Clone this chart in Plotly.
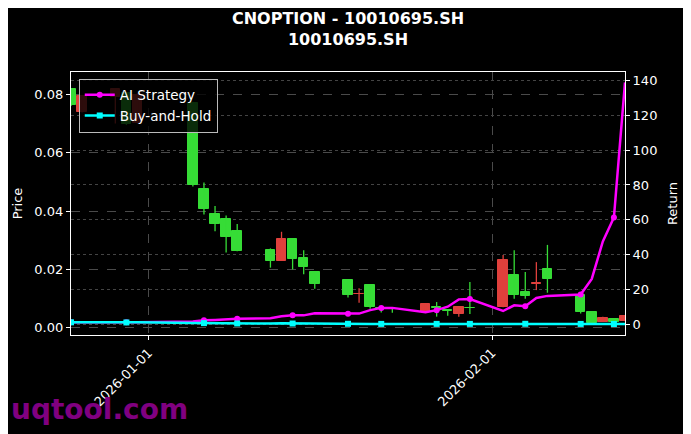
import plotly.graph_objects as go

# 日付と OHLC (チャートから読み取り)
dates = ['2025-12-25', '2025-12-26', '2025-12-29', '2025-12-30', '2025-12-31',
         '2026-01-05', '2026-01-06', '2026-01-07', '2026-01-08', '2026-01-09',
         '2026-01-12', '2026-01-13', '2026-01-14', '2026-01-15', '2026-01-16',
         '2026-01-19', '2026-01-20', '2026-01-21', '2026-01-22', '2026-01-23',
         '2026-01-26', '2026-01-27', '2026-01-28', '2026-01-29', '2026-01-30',
         '2026-02-02', '2026-02-03', '2026-02-04', '2026-02-05', '2026-02-06',
         '2026-02-09', '2026-02-10', '2026-02-11', '2026-02-12', '2026-02-13']
opens = [0.0818, 0.0741, 0.0790, 0.0804, 0.0703,
         0.0771, 0.0477, 0.0390, 0.0374, 0.0330,
         0.0266, 0.0229, 0.0304, 0.0239, 0.0191,
         0.0164, 0.0115, 0.0146, 0.0066, 0.0065,
         0.0055, 0.0072, 0.0060, 0.0047, 0.0068,
         0.0072, 0.0181, 0.0121, 0.0150, 0.0200,
         0.0111, 0.0053, 0.0021, 0.0030, 0.0023]
highs = [0.0822, 0.0798, 0.0822, 0.0808, 0.0806,
         0.0775, 0.0498, 0.0417, 0.0385, 0.0356,
         0.0272, 0.0329, 0.0304, 0.0266, 0.0191,
         0.0164, 0.0135, 0.0146, 0.0068, 0.0067,
         0.0083, 0.0088, 0.0061, 0.0074, 0.0157,
         0.0249, 0.0266, 0.0191, 0.0225, 0.0284,
         0.0111, 0.0053, 0.0038, 0.0031, 0.0042]
lows = [0.0760, 0.0738, 0.0700, 0.0695, 0.0700,
        0.0484, 0.0388, 0.0331, 0.0258, 0.0262,
        0.0206, 0.0229, 0.0200, 0.0183, 0.0134,
        0.0104, 0.0086, 0.0065, 0.0052, 0.0051,
        0.0052, 0.0038, 0.0041, 0.0038, 0.0047,
        0.0070, 0.0099, 0.0099, 0.0129, 0.0120,
        0.0049, 0.0016, 0.0020, 0.0019, 0.0022]
closes = [0.0763, 0.0794, 0.0818, 0.0700, 0.0798,
          0.0488, 0.0406, 0.0354, 0.0310, 0.0262,
          0.0229, 0.0304, 0.0237, 0.0208, 0.0151,
          0.0113, 0.0117, 0.0072, 0.0064, 0.0063,
          0.0081, 0.0069, 0.0057, 0.0070, 0.0066,
          0.0232, 0.0113, 0.0109, 0.0153, 0.0168,
          0.0055, 0.0017, 0.0034, 0.0021, 0.0041]

# リターン (右軸)
ai_ret = [1.0, 1.0, 1.0, 1.0, 1.1,
          1.5, 2.2, 2.4, 2.8, 3.0,
          3.4, 4.5, 5.0, 5.0, 6.2,
          5.9, 6.0, 8.0, 9.3, 9.3,
          6.8, 8.0, 10.0, 14.2, 14.4,
          7.5, 10.8, 10.3, 15.0, 16.2,
          17.0, 26.0, 47.5, 61.3, 139.0]
bh_ret = [1.00, 1.04, 1.07, 0.92, 1.05,
          0.64, 0.53, 0.46, 0.41, 0.34,
          0.30, 0.40, 0.31, 0.27, 0.20,
          0.15, 0.15, 0.09, 0.08, 0.08,
          0.11, 0.09, 0.07, 0.09, 0.09,
          0.30, 0.15, 0.14, 0.20, 0.22,
          0.07, 0.02, 0.04, 0.03, 0.05]

x_ticks = ['2026-01-01', '2026-02-01']
price_ticks = [0.00, 0.02, 0.04, 0.06, 0.08]
ret_ticks = [0, 20, 40, 60, 80, 100, 120, 140]

UP = '#e0403c'    # 上昇 = 赤
DOWN = '#36dc36'  # 下落 = 緑
FONT = 'DejaVu Sans'
DAY = 86400000

fig = go.Figure()

# ローソク足: 上昇/下落ごとにヒゲと実体を描く
for color, is_up in [(DOWN, False), (UP, True)]:
    idx = [i for i in range(len(dates)) if (closes[i] >= opens[i]) == is_up]
    wx, wy = [], []
    for i in idx:
        wx += [dates[i], dates[i], None]
        wy += [lows[i], highs[i], None]
    fig.add_trace(go.Scatter(x=wx, y=wy, mode='lines', line=dict(color=color, width=1.3),
                             showlegend=False, hoverinfo='skip'))
    fig.add_trace(go.Bar(
        x=[dates[i] for i in idx],
        y=[abs(closes[i] - opens[i]) for i in idx],
        base=[min(opens[i], closes[i]) for i in idx],
        width=0.86 * DAY,
        marker=dict(color=color, line=dict(color=color, width=1)),
        showlegend=False,
    ))

# 戦略ラインと凡例用ダミー
for name, vals, color, symbol in [('AI Strategy', ai_ret, '#ff00ff', 'circle'),
                                  ('Buy-and-Hold', bh_ret, '#00ffff', 'square')]:
    fig.add_trace(go.Scatter(x=dates, y=vals, mode='lines', yaxis='y2',
                             line=dict(color=color, width=2.5), showlegend=False))
    fig.add_trace(go.Scatter(x=dates[::3], y=vals[::3], mode='markers', yaxis='y2',
                             marker=dict(color=color, size=6, symbol=symbol), showlegend=False))
    fig.add_trace(go.Scatter(x=[None], y=[None], mode='lines+markers', yaxis='y2', name=name,
                             line=dict(color=color, width=2.5),
                             marker=dict(color=color, size=6, symbol=symbol)))

axis_common = dict(showline=True, linecolor='white', linewidth=1.2, mirror=True,
                   ticks='outside', ticklen=4, tickcolor='white', zeroline=False,
                   automargin=False,
                   tickfont=dict(color='white', size=13, family=FONT))

# ページ余白 (8px) の分だけ左上の余白を減らす
fig.update_layout(
    width=691, height=434,
    paper_bgcolor='black', plot_bgcolor='black',
    margin=dict(l=63, r=74, t=64, b=107),
    barmode='overlay', bargap=0,
    font=dict(family=FONT, color='white', size=13),
    title=dict(text='<b>CNOPTION - 10010695.SH</b><br><b>10010695.SH</b>',
               x=0.5, xref='paper', y=0.963, yanchor='top', automargin=False,
               font=dict(size=16, color='white', family=FONT)),
    xaxis=dict(type='date', range=['2025-12-25', '2026-02-13'],
               tickvals=x_ticks, ticktext=x_ticks, tickangle=-45,
               showgrid=True, gridcolor='#4a4a4a', griddash='dash', gridwidth=0.8,
               **axis_common),
    yaxis=dict(range=[-0.0025, 0.0877], tickvals=price_ticks,
               ticktext=['%.2f' % v for v in price_ticks],
               showgrid=True, gridcolor='#4a4a4a', griddash='dash', gridwidth=0.8,
               title=dict(text='Price', standoff=8, font=dict(size=13, color='white')),
               **axis_common),
    yaxis2=dict(overlaying='y', side='right', range=[-6.3, 145], tickvals=ret_ticks,
                showgrid=True, gridcolor='#444444', griddash='dot', gridwidth=0.8,
                title=dict(text='Return', standoff=11, font=dict(size=13, color='white')),
                showline=False, ticks='outside', ticklen=4, tickcolor='white', zeroline=False,
                automargin=False,
                tickfont=dict(color='white', size=13, family=FONT)),
    legend=dict(x=0.014, y=0.975, xanchor='left', yanchor='top',
                bgcolor='rgba(0,0,0,0.8)', bordercolor='#bbbbbb', borderwidth=1,
                font=dict(size=13.5, color='white'), itemwidth=30, tracegroupgap=0),
    annotations=[dict(text='<b>uqtool.com</b>', xref='paper', yref='paper',
                      x=-0.112, y=-0.284, xanchor='left', yanchor='middle', showarrow=False,
                      font=dict(size=28, color='#800080', family=FONT))],
)

fig.write_html('out.html')
